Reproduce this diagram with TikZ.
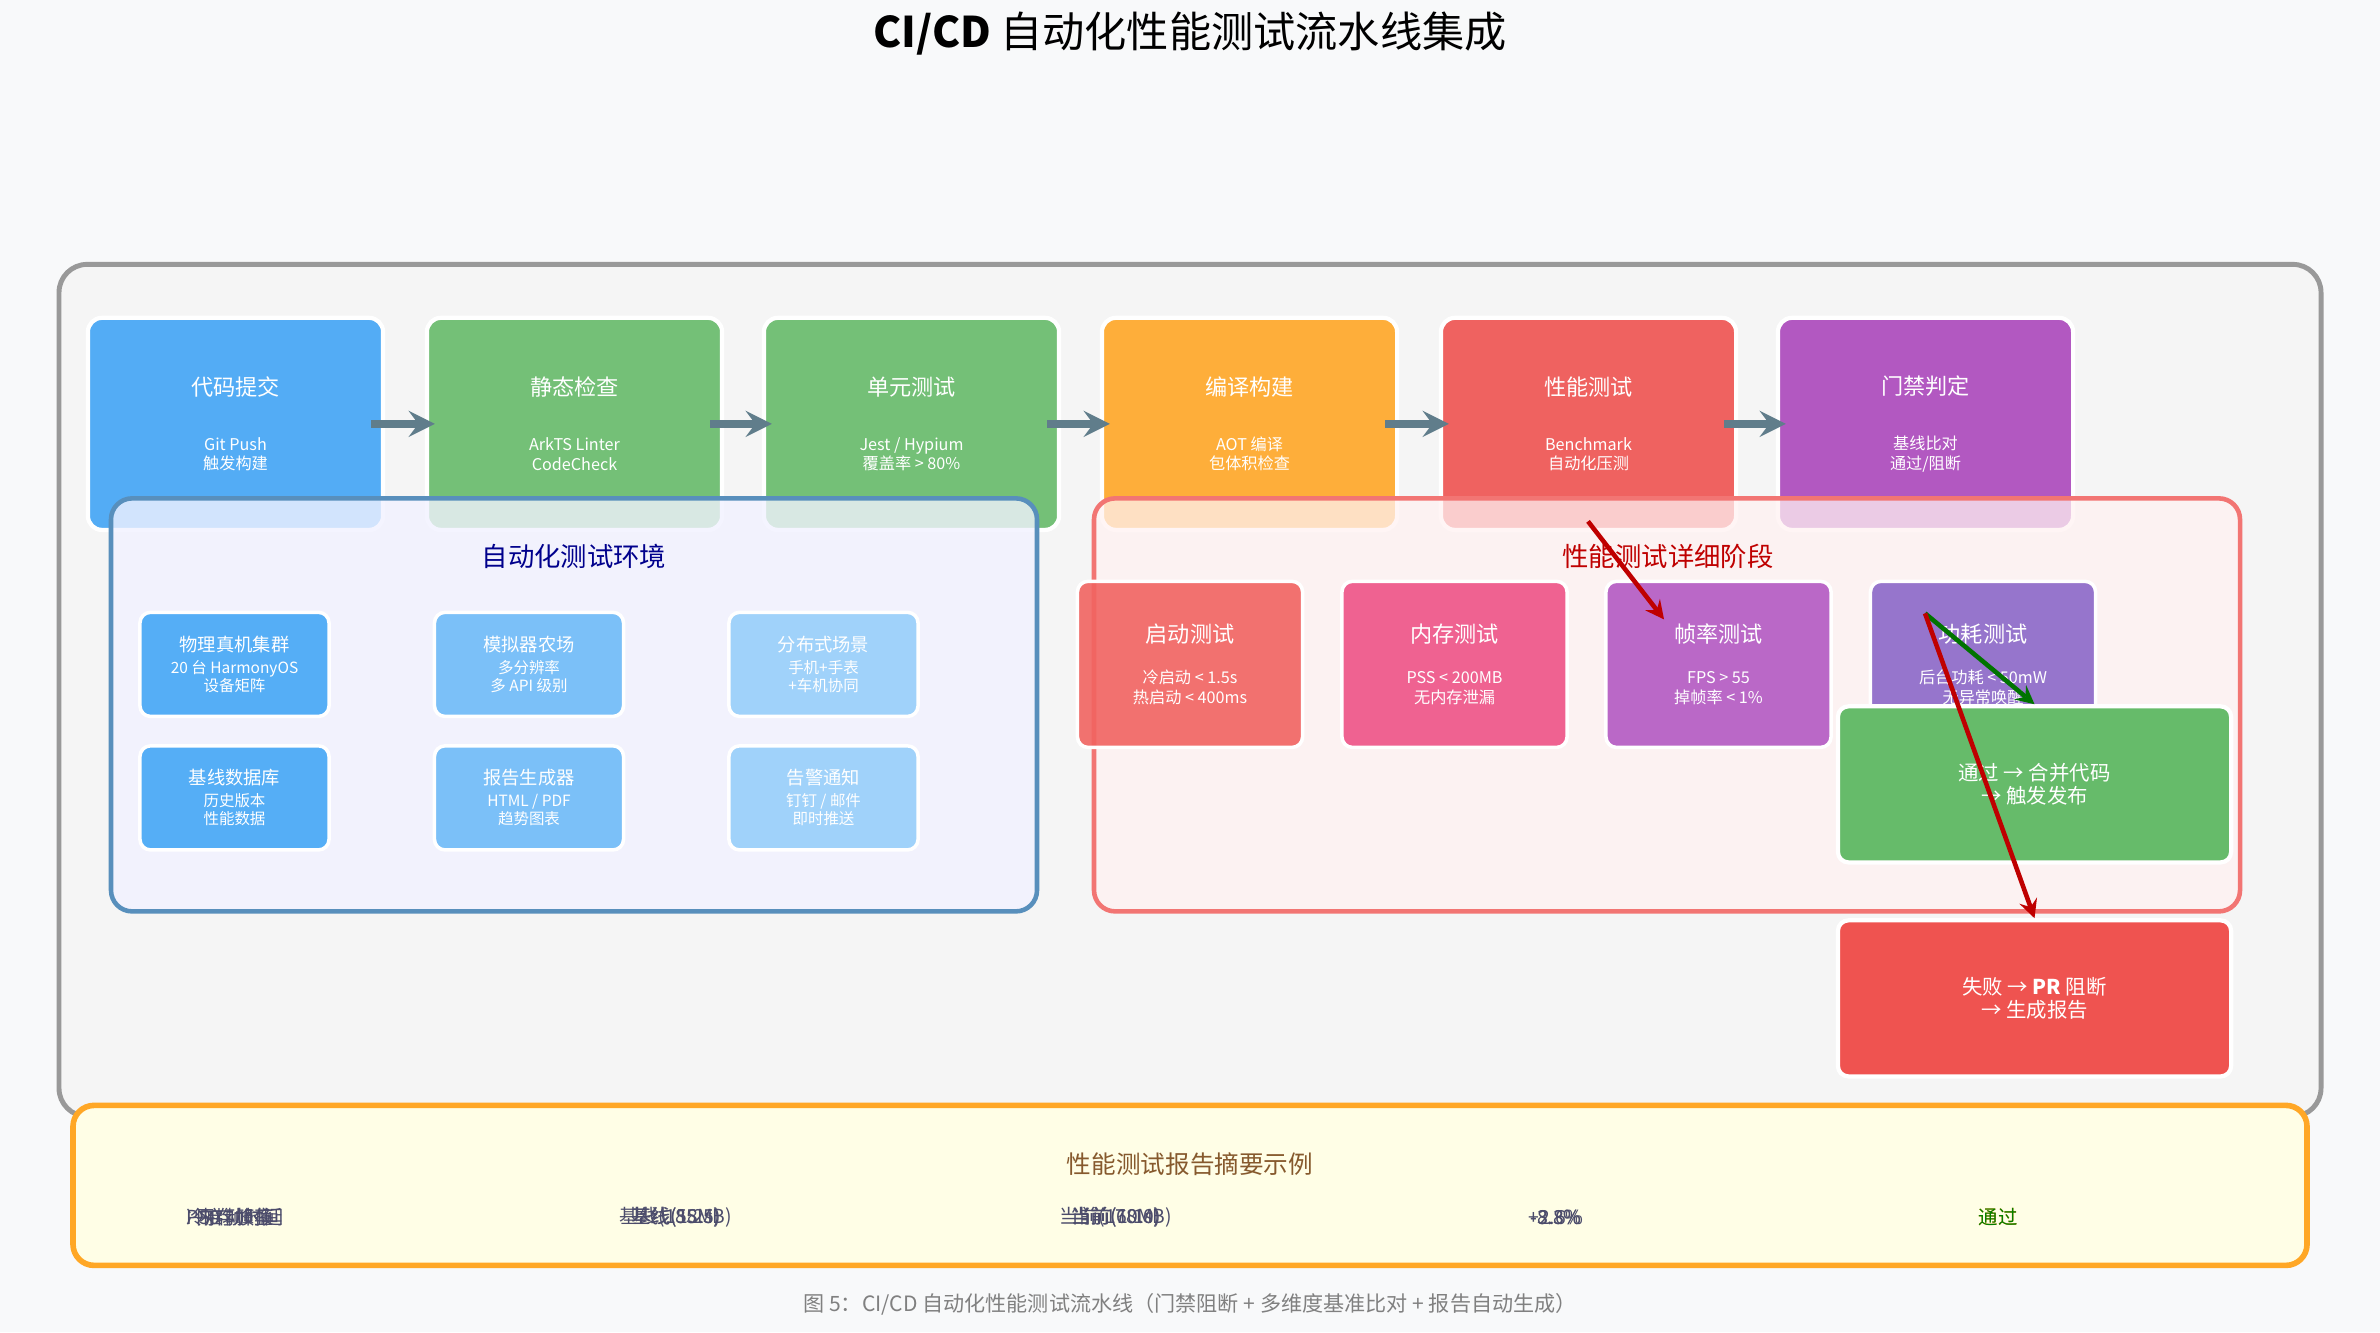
\documentclass[tikz,border=0pt]{standalone}
\usepackage{fontspec}
\setmainfont{Noto Sans CJK SC}
\usetikzlibrary{positioning}
\usetikzlibrary{calc}
\definecolor{bgc}{HTML}{F8F9FA}
\definecolor{c-blue}{HTML}{42A5F5}
\definecolor{c-green}{HTML}{66BB6A}
\definecolor{c-orange}{HTML}{FFA726}
\definecolor{c-red}{HTML}{EF5350}
\definecolor{c-purple}{HTML}{AB47BC}
\definecolor{c-pink}{HTML}{EC407A}
\definecolor{c-violet}{HTML}{7E57C2}
\definecolor{flowgray}{HTML}{607D8B}
\newcommand{\ttl}{\fontsize{6.3}{7.5}\selectfont}
\newcommand{\sub}{\fontsize{4.6}{5.6}\selectfont}
\tikzset{%
  stage/.style = {rectangle,rounded corners=4pt,draw=white,line width=1.2pt,
        fill opacity=0.9,text opacity=1,text=white,align=center,font=\sub,
        minimum width=2.95cm,minimum height=2.12cm,inner sep=0pt},
  envbox/.style = {rectangle,rounded corners=3pt,draw=white,line width=1pt,
        text=white,align=center,font=\fontsize{4.4}{5.2}\selectfont,
        minimum width=1.89cm,minimum height=1.04cm,inner sep=0pt},
  testbox/.style = {rectangle,rounded corners=3pt,draw=white,line width=1pt,
        fill opacity=0.9,text opacity=1,text=white,align=center,font=\sub,
        minimum width=2.25cm,minimum height=1.66cm,inner sep=0pt},
  gatebox/.style = {rectangle,rounded corners=3pt,draw=white,line width=1.2pt,
        text=white,align=center,font=\fontsize{5.8}{6.6}\selectfont,
        minimum width=3.93cm,minimum height=1.56cm,inner sep=0pt},
  flow/.style = {-stealth,flowgray,line width=2.2pt,shorten <=-0.14cm,shorten >=-0.1cm},
  okarrow/.style = {-stealth,green!45!black,line width=1.3pt},
  failarrow/.style = {-stealth,red!75!black,line width=1.3pt},
  sumtext/.style = {font=\fontsize{5.5}{6}\selectfont,text=black!70!blue!40!gray}
}

\begin{document}
\begin{tikzpicture}[x=0.01cm,y=-0.01cm]
    \fill[bgc] (0,0) rectangle (2380,1332);
    \node (title) at (1190,33) {\fontsize{12}{14}\selectfont\textbf{CI/CD} 自动化性能测试流水线集成};
    % outer frame
    \draw[gray!80,line width=1.4pt,fill=black!4,rounded corners=8pt] (59,264) rectangle (2321,1116);
    % pipeline stages
    \node[stage,fill=c-blue] (commit) at (235.5,423.5) {{\ttl 代码提交}\\[10pt]Git Push\\触发构建};
    \node[stage,fill=c-green] (lint) at (574.5,423.5) {{\ttl 静态检查}\\[10pt]ArkTS Linter\\CodeCheck};
    \node[stage,fill=c-green] (unit) at (911.5,423.5) {{\ttl 单元测试}\\[10pt]Jest / Hypium\\覆盖率 > 80\%};
    \node[stage,fill=c-orange] (build) at (1249.5,423.5) {{\ttl 编译构建}\\[10pt]AOT 编译\\包体积检查};
    \node[stage,fill=c-red] (perf) at (1588.5,423.5) {{\ttl 性能测试}\\[10pt]Benchmark\\自动化压测};
    \node[stage,fill=c-purple] (gate) at (1925.5,423.5) {{\ttl 门禁判定}\\[10pt]基线比对\\通过/阻断};
    % test environment
    \draw[c-blue!70!black!80,line width=1.3pt,fill=blue!5,fill opacity=0.8,rounded corners=6pt] (111,498) rectangle (1037,911);
    \node[text=blue!55!black] (envtitle) at (574,556) {\fontsize{7.5}{9}\selectfont 自动化测试环境};
    \node[envbox,fill=c-blue!90] (device) at (234.5,664) {{\fontsize{5.2}{6}\selectfont 物理真机集群}\\[1pt]20 台 HarmonyOS\\设备矩阵};
    \node[envbox,fill=c-blue!70] (emu) at (529,664) {{\fontsize{5.2}{6}\selectfont 模拟器农场}\\[1pt]多分辨率\\多 API 级别};
    \node[envbox,fill=c-blue!50] (dist) at (823.5,664) {{\fontsize{5.2}{6}\selectfont 分布式场景}\\[1pt]手机+手表\\+车机协同};
    \node[envbox,fill=c-blue!90] (basedb) at (234.5,797.5) {{\fontsize{5.2}{6}\selectfont 基线数据库}\\[1pt]历史版本\\性能数据};
    \node[envbox,fill=c-blue!70] (report) at (529,797.5) {{\fontsize{5.2}{6}\selectfont 报告生成器}\\[1pt]HTML / PDF\\趋势图表};
    \node[envbox,fill=c-blue!50] (alert) at (823.5,797.5) {{\fontsize{5.2}{6}\selectfont 告警通知}\\[1pt]钉钉 / 邮件\\即时推送};
    % performance stages
    \draw[c-red!80!white,line width=1.3pt,fill=red!5,fill opacity=0.75,rounded corners=6pt] (1094,498) rectangle (2240,911);
    \node[text=red!75!black] (perftitle) at (1668,556) {\fontsize{7.5}{9}\selectfont 性能测试详细阶段};
    \node[testbox,fill=c-red!90!white] (launch) at (1190,664) {{\ttl 启动测试}\\[6pt]冷启动 < 1.5s\\热启动 < 400ms};
    \node[testbox,fill=c-pink!90!white] (mem) at (1454.5,664) {{\ttl 内存测试}\\[6pt]PSS < 200MB\\无内存泄漏};
    \node[testbox,fill=c-purple!90!white] (fps) at (1718.5,664) {{\ttl 帧率测试}\\[6pt]FPS > 55\\掉帧率 < 1\%};
    \node[testbox,fill=c-violet!90!white] (power) at (1983,664) {{\ttl 功耗测试}\\[6pt]后台功耗 < 50mW\\无异常唤醒};
    % gate results
    \node[gatebox,fill=c-green] (pass) at (2034.5,784) {通过 → 合并代码\\→ 触发发布};
    \node[gatebox,fill=c-red] (fail) at (2034.5,998) {失败 → \textbf{PR} 阻断\\→ 生成报告};
    % arrows
    \draw[flow] (commit.east) -- (lint.west);
    \draw[flow] (lint.east) -- (unit.west);
    \draw[flow] (unit.east) -- (build.west);
    \draw[flow] (build.east) -- (perf.west);
    \draw[flow] (perf.east) -- (gate.west);
    \coordinate (perfout) at (1588,521);
    \coordinate (fpsin) at (1664,619);
    \coordinate (gatept) at (1925,613);
    \draw[failarrow] (perfout) -- (fpsin);
    \draw[okarrow] (gatept) -- (pass.north);
    \draw[failarrow] (gatept) -- (fail.north);
    % report summary
    \draw[c-orange,line width=1.6pt,fill=yellow!10,rounded corners=6pt] (73,1105) rectangle (2307,1265);
    \node[text=brown!70!black] (sumtitle) at (1190,1164) {\fontsize{7}{8}\selectfont 性能测试报告摘要示例};
    \foreach \t in {冷启动时间,内存峰值,平均帧率,P50 帧时延}
        \node[sumtext] at (235,1217) {\t};
    \foreach \t in {基线(1.2s),基线(185MB),基线(58.5)}
        \node[sumtext] at (676,1217) {\t};
    \foreach \t in {当前(1.1s),当前(178MB),当前(60.0)}
        \node[sumtext] at (1116,1217) {\t};
    \foreach \t in {-8.3\%,-3.8\%,+2.6\%}
        \node[sumtext] at (1556,1217) {\t};
    \node[sumtext,text=orange] at (1998,1217) {通过};
    \node[sumtext,text=green!50!black] (verdict) at (1998,1217) {通过};
    \node[text=gray] (caption) at (1190,1304) {\fontsize{6}{7}\selectfont 图 5：\textit{CI/CD} 自动化性能测试流水线（门禁阻断 + 多维度基准比对 + 报告自动生成）};
\end{tikzpicture}
\end{document}
